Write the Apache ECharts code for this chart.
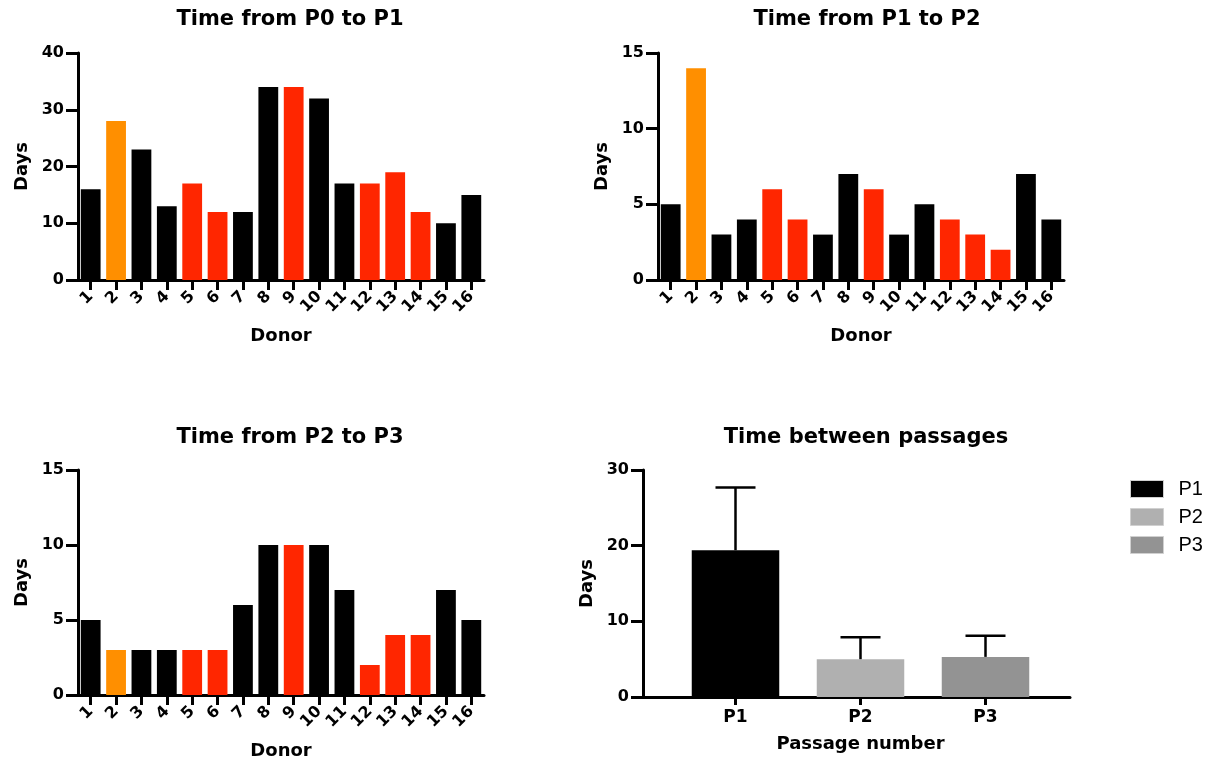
<!DOCTYPE html>
<html>
<head>
<meta charset="utf-8">
<script src="https://cdn.jsdelivr.net/npm/echarts@6/dist/echarts.min.js"></script>
<style>
  html, body { margin: 0; padding: 0; background: #fff; }
  #chart { width: 1211px; height: 761px; }
</style>
</head>
<body>
<div id="chart"></div>
<script>
// donors and groups
var donors = ['1','2','3','4','5','6','7','8','9','10','11','12','13','14','15','16'];
var donorGroup = ['a','b','a','a','c','c','a','a','c','a','a','c','c','c','a','a'];

// days per passage step
var daysP0P1 = [16, 28, 23, 13, 17, 12, 12, 34, 34, 32, 17, 17, 19, 12, 10, 15];
var daysP1P2 = [5, 14, 3, 4, 6, 4, 3, 7, 6, 3, 5, 4, 3, 2, 7, 4];
var daysP2P3 = [5, 3, 3, 3, 3, 3, 6, 10, 10, 10, 7, 2, 4, 4, 7, 5];

// summary panel
var passages = ['P1', 'P2', 'P3'];
var passageMean = [19.4, 5.0, 5.3];
var passageUpper = [27.7, 7.9, 8.1];

var groupColor = { a: '#000000', b: '#ff8f00', c: '#ff2600' };
var passageColor = ['#000000', '#b0b0b0', '#939393'];

var BOLD_FONT = '"DejaVu Sans", Verdana, sans-serif';
var FONT = '"Liberation Sans", Arial, sans-serif';

function colored(vals) {
  return vals.map(function (v, i) {
    return { value: v, itemStyle: { color: groupColor[donorGroup[i]] } };
  });
}

function axisLine() {
  return { show: true, lineStyle: { color: '#000', width: 3 } };
}
function tickLabel(extra) {
  var o = { color: '#000', fontWeight: 'bold', fontSize: 16, fontFamily: BOLD_FONT };
  for (var k in extra) o[k] = extra[k];
  return o;
}
var nameStyle = { color: '#000', fontWeight: 'bold', fontSize: 18, fontFamily: BOLD_FONT };

function donorX(gi) {
  return {
    type: 'category', gridIndex: gi, data: donors,
    axisLine: axisLine(),
    axisTick: { show: true, alignWithLabel: true, length: 10, lineStyle: { color: '#000', width: 3 } },
    axisLabel: tickLabel({ rotate: 45, margin: 14, interval: 0 }),
    name: 'Donor', nameLocation: 'middle', nameGap: 47, nameTextStyle: nameStyle
  };
}
function daysY(gi, max, step, offset) {
  return {
    type: 'value', gridIndex: gi, min: 0, max: max, interval: step, offset: offset || 0,
    axisLine: axisLine(),
    axisTick: { show: true, length: 12, lineStyle: { color: '#000', width: 3 } },
    axisLabel: tickLabel({ margin: 14 }),
    splitLine: { show: false },
    name: 'Days', nameLocation: 'middle', nameGap: 47, nameTextStyle: nameStyle
  };
}

var titleStyle = { color: '#000', fontWeight: 'bold', fontSize: 21, fontFamily: BOLD_FONT };
function title(text, x, y) {
  return { text: text, left: x, top: y, textAlign: 'center', textStyle: titleStyle };
}

var passageSeries = passages.map(function (p, i) {
  return {
    name: p, type: 'bar', xAxisIndex: 3, yAxisIndex: 3, stack: 'pass', barWidth: '70%',
    itemStyle: { color: passageColor[i] },
    data: passages.map(function (q, j) { return j === i ? passageMean[i] : '-'; })
  };
});

var option = {
  backgroundColor: '#fff',
  animation: false,
  title: [
    title('Time from P0 to P1', 285, 4),
    title('Time from P1 to P2', 862, 4),
    title('Time from P2 to P3', 285, 422),
    title('Time between passages', 861, 422)
  ],
  legend: {
    data: passages, orient: 'vertical', left: 1125, top: 474, icon: 'rect',
    itemWidth: 33, itemHeight: 17, itemGap: 8,
    textStyle: { color: '#000', fontSize: 20, fontFamily: FONT, padding: [0, 0, 0, 10] },
    itemStyle: { borderColor: '#d0d0d0', borderWidth: 1 }
  },
  grid: [
    { left: 78, top: 53, width: 406, height: 227 },
    { left: 658, top: 53, width: 406, height: 227 },
    { left: 78, top: 470, width: 406, height: 227 },
    { left: 673, top: 470, width: 375, height: 227 },
    { left: 643, top: 470, width: 427, height: 227 }
  ],
  xAxis: [
    donorX(0), donorX(1), donorX(2),
    {
      type: 'category', gridIndex: 3, data: passages,
      axisLine: axisLine(),
      axisTick: { show: true, alignWithLabel: true, length: 8, lineStyle: { color: '#000', width: 3 } },
      axisLabel: tickLabel({ margin: 12, fontSize: 17 }),
      name: 'Passage number', nameLocation: 'middle', nameGap: 38, nameTextStyle: nameStyle
    },
    {
      type: 'category', gridIndex: 4, data: passages,
      axisLine: axisLine(), axisTick: { show: false }, axisLabel: { show: false }
    }
  ],
  yAxis: [
    daysY(0, 40, 10), daysY(1, 15, 5), daysY(2, 15, 5), daysY(3, 30, 10, 30),
    { type: 'value', gridIndex: 4, min: 0, max: 30, show: false }
  ],
  series: [
    { type: 'bar', xAxisIndex: 0, yAxisIndex: 0, barWidth: '78%', data: colored(daysP0P1) },
    { type: 'bar', xAxisIndex: 1, yAxisIndex: 1, barWidth: '78%', data: colored(daysP1P2) },
    { type: 'bar', xAxisIndex: 2, yAxisIndex: 2, barWidth: '78%', data: colored(daysP2P3) }
  ].concat(passageSeries).concat([{
    type: 'custom', xAxisIndex: 3, yAxisIndex: 3, z: 5,
    data: passages.map(function (p, i) { return [i, passageMean[i], passageUpper[i]]; }),
    renderItem: function (params, api) {
      var lo = api.coord([api.value(0), api.value(1)]);
      var hi = api.coord([api.value(0), api.value(2)]);
      var style = { stroke: '#000', lineWidth: 2.5 };
      return {
        type: 'group',
        children: [
          { type: 'line', shape: { x1: lo[0], y1: lo[1], x2: hi[0], y2: hi[1] }, style: style },
          { type: 'line', shape: { x1: hi[0] - 20, y1: hi[1], x2: hi[0] + 20, y2: hi[1] }, style: style }
        ]
      };
    }
  }])
};

var chart = echarts.init(document.getElementById('chart'));
chart.setOption(option);
</script>
</body>
</html>
